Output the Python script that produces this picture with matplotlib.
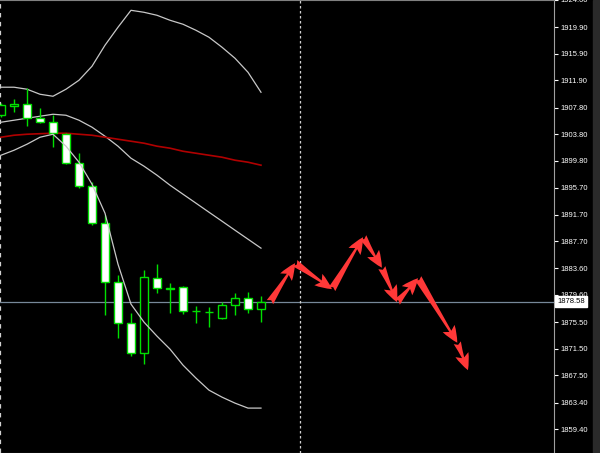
import matplotlib
matplotlib.use('Agg')
import matplotlib.pyplot as plt
from matplotlib.patches import FancyArrowPatch
import matplotlib.transforms as mtransforms
import numpy as np

# Palette (MT4 green-on-black)
C_BG     = '#000000'
C_CANDLE = '#00E000'
C_BAND   = '#C8C8C8'
C_MA     = '#B00000'
C_PRICE  = '#778899'
C_ARROW  = '#FF3838'
C_AXIS   = '#A0A0A0'

# Candles (bar index 0..20)
opens  = [1906.65, 1908.01, 1908.31, 1906.20, 1905.60, 1903.79, 1899.43, 1895.97,
          1890.40, 1881.52, 1875.35, 1870.83, 1882.12, 1880.62, 1880.77, 1877.16,
          1877.00, 1876.10, 1878.06, 1879.11, 1877.46]
highs  = [1908.46, 1909.06, 1910.72, 1907.71, 1906.65, 1903.94, 1900.93, 1896.57,
          1891.60, 1882.57, 1876.85, 1883.32, 1884.23, 1881.37, 1880.92, 1877.91,
          1877.76, 1878.51, 1879.86, 1880.01, 1879.41]
lows   = [1906.35, 1907.10, 1905.00, 1905.45, 1901.84, 1899.28, 1895.67, 1890.10,
          1876.55, 1873.09, 1870.38, 1869.18, 1879.86, 1876.85, 1876.70, 1875.35,
          1874.75, 1875.95, 1876.55, 1876.85, 1875.50]
closes = [1908.16, 1908.31, 1906.20, 1905.60, 1903.94, 1899.43, 1895.97, 1890.40,
          1881.52, 1875.35, 1870.83, 1882.27, 1880.62, 1880.47, 1877.16, 1877.16,
          1877.00, 1878.06, 1879.11, 1877.46, 1878.58]

# Bollinger bands and long moving average
bb_upper = [1910.87, 1910.87, 1910.57, 1909.81, 1909.51, 1910.57, 1911.92, 1914.03,
            1917.19, 1919.90, 1922.45, 1922.15, 1921.70, 1920.95, 1920.35, 1919.44,
            1918.39, 1916.89, 1915.23, 1913.12, 1910.11]
bb_mid   = [1905.60, 1905.90, 1906.20, 1906.50, 1906.80, 1906.65, 1905.90, 1904.85,
            1903.49, 1901.99, 1900.18, 1898.98, 1897.62, 1896.12, 1894.76, 1893.41,
            1892.05, 1890.70, 1889.34, 1887.99, 1886.64]
bb_lower = [1900.63, 1901.38, 1902.29, 1903.34, 1903.79, 1901.99, 1899.58, 1896.27,
            1891.90, 1884.23, 1878.21, 1875.50, 1873.39, 1871.44, 1869.03, 1867.07,
            1865.26, 1864.21, 1863.31, 1862.56, 1862.56]
ma_long  = [1903.34, 1903.64, 1903.79, 1903.87, 1903.94, 1903.94, 1903.79, 1903.64,
            1903.34, 1903.04, 1902.74, 1902.44, 1901.99, 1901.69, 1901.23, 1900.93,
            1900.63, 1900.33, 1899.88, 1899.58, 1899.13]

# Projected path drawn with arrows (bar index, price)
path_x = [20.69, 22.62, 25.46, 27.85, 29.30, 30.46, 32.08, 35.10, 35.92]
path_y = [1878.51, 1884.38, 1880.47, 1888.29, 1883.70, 1878.51, 1882.12, 1872.40, 1868.27]

# Price axis
price_ticks = [1924.00, 1919.90, 1915.90, 1911.90, 1907.80, 1903.80, 1899.80,
               1895.70, 1891.70, 1887.70, 1883.60, 1879.60, 1875.50, 1871.50,
               1867.50, 1863.40, 1859.40]
last_price = 1878.58
separator_bar = 23.0

fig = plt.figure(figsize=(6.0, 4.53), dpi=100)
fig.patch.set_facecolor(C_BG)
ax = fig.add_axes([0, 0, 554 / 600, 1])
ax.set_facecolor(C_BG)

idx = np.arange(len(opens))
o = np.array(opens); c = np.array(closes)

# wicks
ax.vlines(idx, lows, highs, color=C_CANDLE, linewidth=1.0, zorder=3)
# bodies: bear = white, bull = black
body_col = np.where(c < o, 'white', 'black')
ax.bar(idx, np.abs(c - o), bottom=np.minimum(o, c), width=0.62,
       color=body_col, edgecolor=C_CANDLE, linewidth=1.0, zorder=4)

# indicators
ax.plot(idx, bb_upper, color=C_BAND, lw=0.9, zorder=2)
ax.plot(idx, bb_mid, color=C_BAND, lw=0.9, zorder=2)
ax.plot(idx, bb_lower, color=C_BAND, lw=0.9, zorder=5)
ax.plot(idx, ma_long, color=C_MA, lw=1.2, zorder=2)

# last price line and separators
ax.axhline(last_price, color=C_PRICE, lw=0.9, zorder=1)
ax.axvline(separator_bar, color='#D0D0D0', lw=0.9, ls=(0, (2, 2)), zorder=1)
ax.axvline(-0.077, color='#D0D0D0', lw=1.6, ls=(0, (2, 2)), zorder=1)

# projection arrows
for x0, y0, x1, y1 in zip(path_x[:-1], path_y[:-1], path_x[1:], path_y[1:]):
    ax.add_patch(FancyArrowPatch(
        (x0, y0), (x1, y1),
        arrowstyle='fancy,head_length=1.2,head_width=1.0,tail_width=0.55',
        mutation_scale=10, color=C_ARROW, lw=0, shrinkA=0, shrinkB=0, zorder=6))

ax.set_xlim(-0.077, 42.54)
ax.set_ylim(1855.8, 1924.0)

# price scale on the right
ax.yaxis.tick_right()
ax.set_yticks(price_ticks)
ax.set_yticklabels([f'{t:.2f}' for t in price_ticks])
ax.tick_params(axis='y', direction='out', length=3, width=0.8, color='white',
               labelcolor='white', labelsize=5.5, pad=2)
for lbl in ax.get_yticklabels():
    lbl.set_family('Liberation Sans')
ax.set_xticks([])

ax.spines['left'].set_visible(False)
ax.spines['right'].set_color(C_AXIS)
ax.spines['top'].set_color('#808080')
ax.spines['bottom'].set_color('#808080')

# current price tag
trans = mtransforms.blended_transform_factory(ax.transAxes, ax.transData)
ax.text(1.006, last_price, f'{last_price:.2f}', transform=trans,
        ha='left', va='center', fontsize=5.5, family='Liberation Sans',
        color='black', zorder=10, clip_on=False,
        bbox=dict(boxstyle='square,pad=0.25', fc='white', ec='white'))

# scrollbar strip on far right
fig.patches.append(plt.Rectangle((593 / 600, 0), 7 / 600, 1, transform=fig.transFigure,
                                 color='#2A2A2A', zorder=0))

fig.savefig('out.png', dpi=100, facecolor=C_BG)
